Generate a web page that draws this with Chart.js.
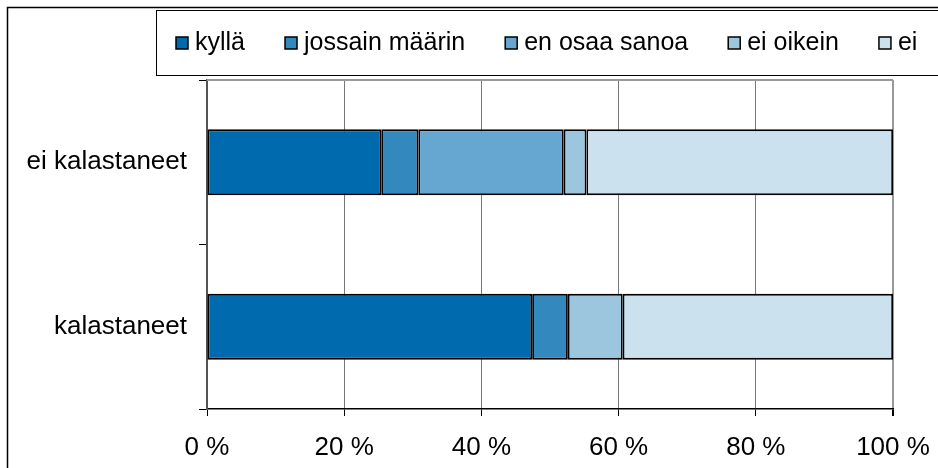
<!DOCTYPE html>
<html>
<head>
<meta charset="utf-8">
<script src="https://cdn.jsdelivr.net/npm/chart.js@4/dist/chart.umd.min.js"></script>
<style>
  html, body { margin: 0; padding: 0; background: #fff; }
  #wrap { width: 938px; height: 468px; position: relative; overflow: hidden; }
</style>
</head>
<body>
<div id="wrap"><canvas id="chart" width="938" height="468"></canvas></div>
<script>
// data
const groups = ['ei kalastaneet', 'kalastaneet'];
const answers = ['kyllä', 'jossain määrin', 'en osaa sanoa', 'ei oikein', 'ei'];
const kylla = [25.4, 47.4];
const jossain = [5.4, 5.2];
const enOsaa = [21.2, 0];
const eiOikein = [3.3, 8.0];
const eiLainkaan = [44.7, 39.4];
const xTicks = [0, 20, 40, 60, 80, 100];

const colors = ['#006AAE', '#3389BE', '#66A7D1', '#9CC5DE', '#CCE1EE'];
const values = [kylla, jossain, enOsaa, eiOikein, eiLainkaan];

Chart.defaults.font.family = '"Liberation Sans", Arial, sans-serif';
Chart.defaults.font.size = 26;
Chart.defaults.color = '#000';

// outer frame, legend box and top border of the plot
const framePlugin = {
  id: 'frame',
  afterDraw(chart) {
    const ctx = chart.ctx;
    const area = chart.chartArea;
    ctx.save();
    ctx.strokeStyle = '#000';
    ctx.lineWidth = 1.5;
    ctx.beginPath();
    ctx.moveTo(7.5, 480);
    ctx.lineTo(7.5, 7.5);
    ctx.lineTo(960, 7.5);
    ctx.stroke();

    ctx.lineWidth = 1;
    ctx.strokeRect(156.5, 10.5, 820, 65);

    ctx.strokeStyle = '#999';
    ctx.lineWidth = 2;
    ctx.beginPath();
    ctx.moveTo(area.left, area.top);
    ctx.lineTo(area.right, area.top);
    ctx.stroke();

    // legend
    ctx.font = '25px "Liberation Sans", Arial, sans-serif';
    ctx.textBaseline = 'middle';
    let x = 176;
    const cy = 43;
    chart.data.datasets.forEach(ds => {
      ctx.fillStyle = ds.backgroundColor;
      ctx.fillRect(x, cy - 6, 12, 12);
      ctx.strokeStyle = '#000';
      ctx.lineWidth = 1.5;
      ctx.strokeRect(x, cy - 6, 12, 12);
      ctx.fillStyle = '#000';
      ctx.fillText(ds.label, x + 19, cy);
      x += 19 + ctx.measureText(ds.label).width + 40;
    });
    ctx.restore();
  }
};

new Chart(document.getElementById('chart'), {
  type: 'bar',
  data: {
    labels: groups,
    datasets: answers.map((a, i) => ({
      label: a,
      data: values[i],
      backgroundColor: colors[i],
      borderColor: '#000',
      borderWidth: 1.8,
      borderSkipped: false,
      barPercentage: 0.4,
      categoryPercentage: 1
    }))
  },
  options: {
    indexAxis: 'y',
    responsive: false,
    maintainAspectRatio: false,
    animation: false,
    layout: { padding: { top: 80, right: 45, left: 0, bottom: 0 } },
    plugins: {
      legend: { display: false },
      tooltip: { enabled: false }
    },
    scales: {
      x: {
        stacked: true,
        min: 0,
        max: 100,
        afterBuildTicks: scale => { scale.ticks = xTicks.map(v => ({ value: v })); },
        ticks: { callback: v => v + ' %', padding: 16, maxRotation: 0 },
        grid: {
          color: c => c.tick && c.tick.value === 100 ? '#999' : '#777',
          lineWidth: c => c.tick && c.tick.value === 100 ? 2 : 1,
          tickColor: '#000',
          tickLength: 7
        },
        border: { color: '#000', width: 1.5 },
        afterFit: scale => {
          scale.height = 59;
          scale.paddingLeft = 0;
          scale.paddingRight = 0;
        }
      },
      y: {
        stacked: true,
        ticks: { padding: 12 },
        grid: {
          offset: true,
          drawOnChartArea: false,
          tickLength: 8,
          color: '#000'
        },
        border: { color: '#555', width: 2 },
        afterFit: scale => { scale.width = 207; }
      }
    }
  },
  plugins: [framePlugin]
});
</script>
</body>
</html>
